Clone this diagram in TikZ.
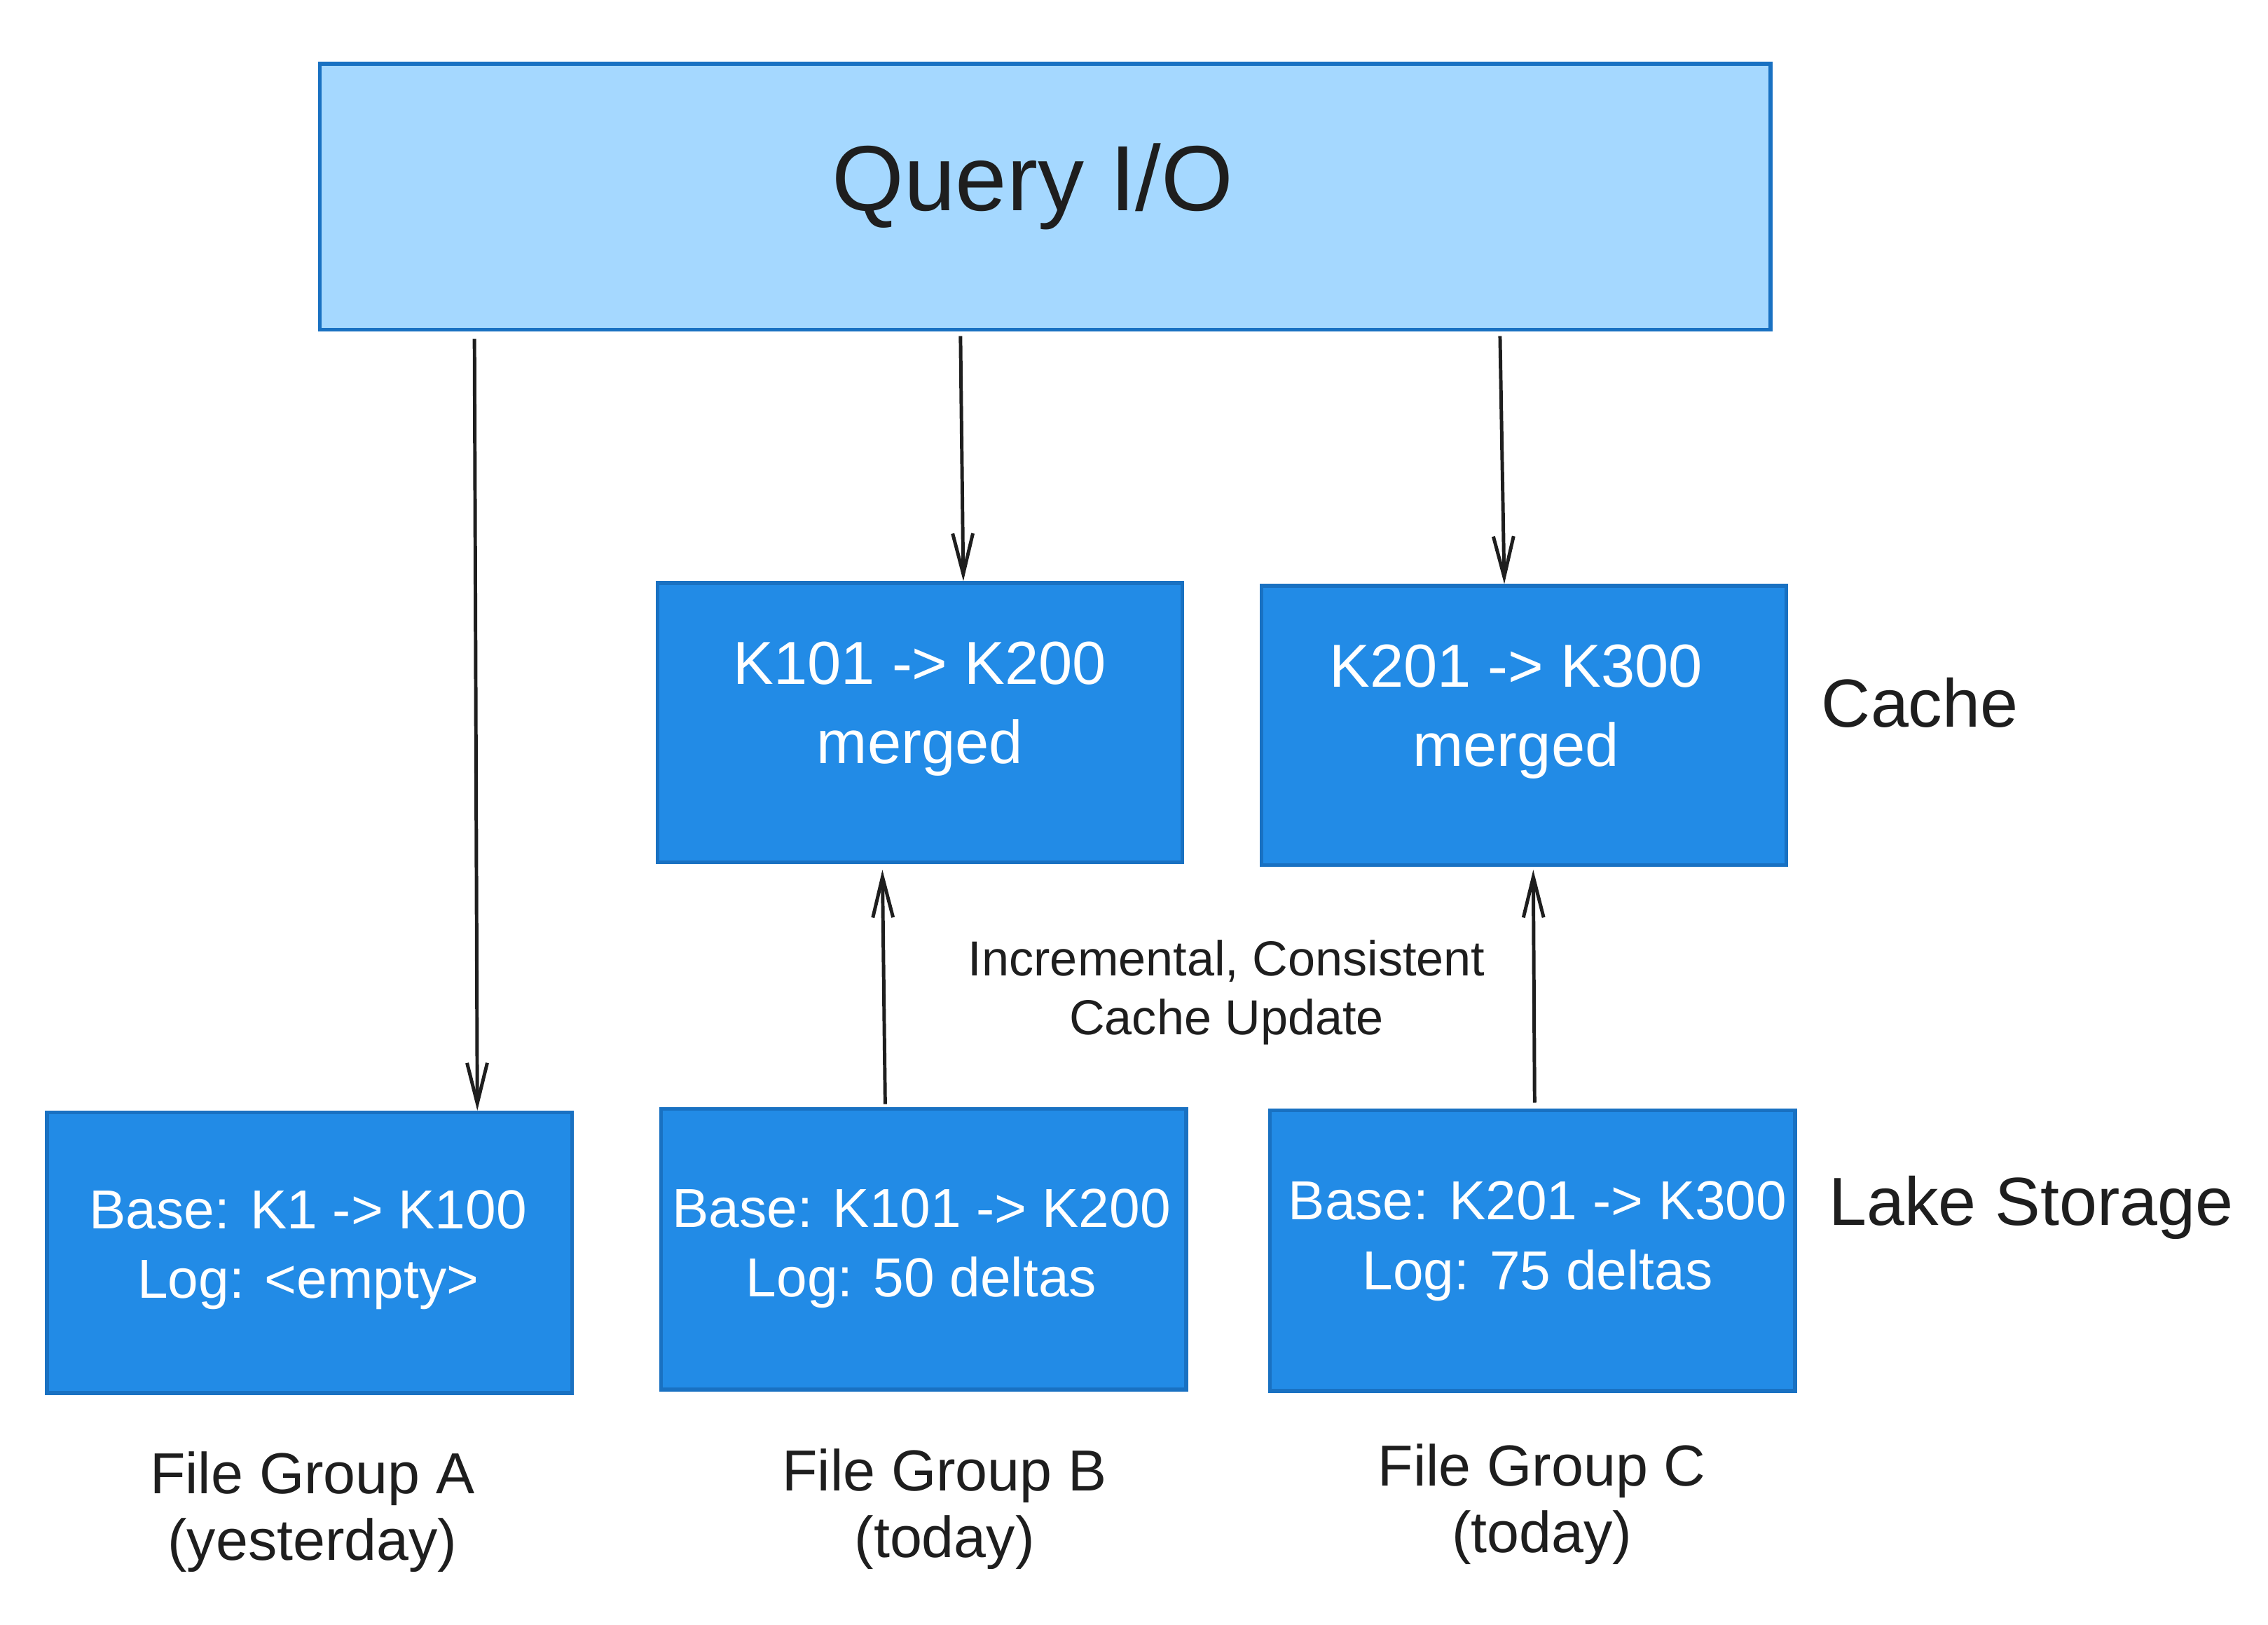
\documentclass[tikz,border=0pt]{standalone}
\usepackage{fontspec}
\setmainfont{Liberation Sans}
\usetikzlibrary{arrows.meta}
\definecolor{lightfill}{HTML}{A5D8FF}
\definecolor{darkfill}{HTML}{228BE6}
\definecolor{edgeblue}{HTML}{1971C2}
\definecolor{ink}{HTML}{1E1E1E}
\tikzset{
  qbox/.style={draw=edgeblue, fill=lightfill, line width=1.3pt, minimum width=501.5pt, minimum height=92pt, inner sep=0pt, text=ink, font=\fontsize{32}{38}\selectfont},
  cbox/.style={draw=edgeblue, fill=darkfill, line width=1.3pt, minimum width=181.5pt, minimum height=96.5pt, inner sep=0pt, text=white, align=center, font=\fontsize{21}{27.5}\selectfont},
  lbox/.style={draw=edgeblue, fill=darkfill, line width=1.3pt, minimum width=181.5pt, minimum height=97pt, inner sep=0pt, text=white, align=center, font=\fontsize{19}{24}\selectfont},
  sidelabel/.style={text=ink, anchor=west, inner sep=0pt, font=\fontsize{23.5}{28}\selectfont},
  grouplabel/.style={text=ink, align=center, inner sep=0pt, font=\fontsize{20}{23}\selectfont},
  arr/.style={draw=ink, line width=1.2pt, -{Straight Barb[length=14pt,width=7pt]}},
}
\begin{document}
\begin{tikzpicture}[x=0.5pt,y=-0.5pt]
\useasboundingbox (0,0) rectangle (1568,1123);
% main boxes
\node[qbox] (q) at (722.5,136) {};
\node[text=ink, inner sep=0pt, font=\fontsize{32}{38}\selectfont] (qt) at (714,129) {Query I/O};
\node[cbox] (cb) at (636,499.5) {};
\node[cbox] (cc) at (1053.5,501.5) {};
\node[lbox] (la) at (214,866) {};
\node[lbox] (lb) at (638.5,863.5) {};
\node[lbox] (lc) at (1059.5,864.5) {};
% box texts
\node[text=white, align=center, inner sep=0pt, font=\fontsize{21}{27.5}\selectfont] (cbt) at (636,490) {K101 -> K200\\merged};
\node[text=white, align=center, inner sep=0pt, font=\fontsize{21}{27.5}\selectfont] (cct) at (1048,492) {K201 -> K300\\merged};
\node[text=white, align=center, inner sep=0pt, font=\fontsize{19}{24}\selectfont] (lat) at (213,864) {Base: K1 -> K100\\Log: <empty>};
\node[text=white, align=center, inner sep=0pt, font=\fontsize{19}{24}\selectfont] (lbt) at (637,863) {Base: K101 -> K200\\Log: 50 deltas};
\node[text=white, align=center, inner sep=0pt, font=\fontsize{19}{24}\selectfont] (lct) at (1063,858) {Base: K201 -> K300\\Log: 75 deltas};
% side labels
\node[sidelabel] (cachelbl) at (1259,486) {Cache};
\node[sidelabel] (lakelbl) at (1264,835) {Lake Storage};
\node[text=ink, align=center, inner sep=0pt, font=\fontsize{17}{20.5}\selectfont] (upd) at (848,686) {Incremental, Consistent\\Cache Update};
% group labels
\node[grouplabel] (ga) at (216,1045) {File Group A\\(yesterday)};
\node[grouplabel] (gb) at (653,1043) {File Group B\\(today)};
\node[grouplabel] (gc) at (1066,1040) {File Group C\\(today)};
% connector x positions
\coordinate (x1s) at (328,0);
\coordinate (x1e) at (330,0);
\coordinate (x2s) at (664,0);
\coordinate (x2e) at (666,0);
\coordinate (x3s) at (1037,0);
\coordinate (x3e) at (1040,0);
\coordinate (x4s) at (612,0);
\coordinate (x4e) at (610,0);
\coordinate (x5s) at (1061,0);
\coordinate (x5e) at (1060,0);
% connectors
\draw[arr, shorten <=5pt/2] (q.south -| x1s) -- (la.north -| x1e);
\draw[arr, shorten <=3pt/2] (q.south -| x2s) -- (cb.north -| x2e);
\draw[arr, shorten <=3pt/2] (q.south -| x3s) -- (cc.north -| x3e);
\draw[arr, shorten <=1pt, shorten >=2pt] (lb.north -| x4s) -- (cb.south -| x4e);
\draw[arr, shorten <=2pt, shorten >=1pt] (lc.north -| x5s) -- (cc.south -| x5e);
\end{tikzpicture}
\end{document}
